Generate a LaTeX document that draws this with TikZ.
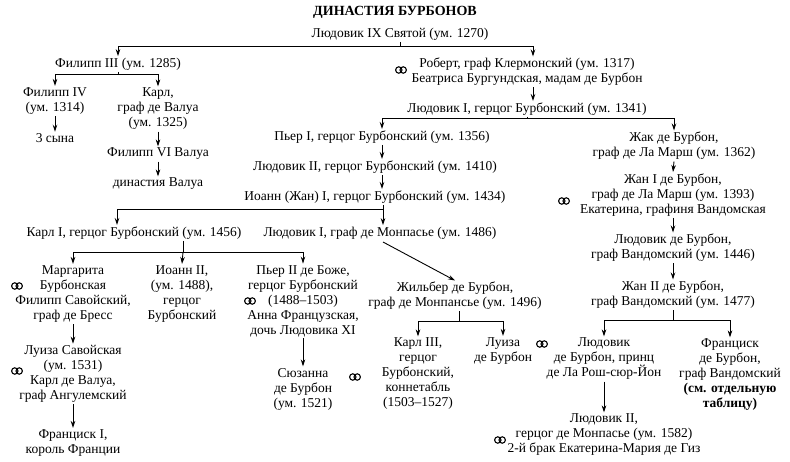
\documentclass[tikz,border=0pt]{standalone}
\usepackage{fontspec}
\setmainfont{Liberation Serif}
\usetikzlibrary{arrows.meta}
\begin{document}
\begin{tikzpicture}[x=1pt,y=-1pt,
  t/.style={font=\fontsize{13.5}{15}\selectfont,align=center,inner sep=1.5pt},
  arr/.style={-{Stealth[length=7pt,width=4.5pt]},line width=0.9pt},
  ln/.style={line width=0.9pt},
  ring/.pic={\draw[line width=1.1pt] (-2.2,0) circle (3.2) (2.2,0) circle (3.2);}]
\useasboundingbox (0,0) rectangle (790,461);
\node[t,font=\bfseries\fontsize{14}{15}\selectfont] (title) at (395,12) {ДИНАСТИЯ БУРБОНОВ};
\node[t] (L9) at (400,34) {Людовик IX Святой (ум. 1270)};
\node[t] (P3) at (118,64) {Филипп III (ум. 1285)};
\node[t] (P4) at (55,101) {Филипп IV\\(ум. 1314)};
\node[t] (s3) at (55,138) {3 сына};
\node[t] (K) at (158,109) {Карл,\\граф де Валуа\\(ум. 1325)};
\node[t] (P6) at (158,154) {Филипп VI Валуа};
\node[t] (dV) at (158,184) {династия Валуа};
\node[t] (R) at (527,72) {Роберт, граф Клермонский (ум. 1317)\\Беатриса Бургундская, мадам де Бурбон};
\pic at (401,70) {ring};
\node[t] (L1) at (527,109) {Людовик I, герцог Бурбонский (ум. 1341)};
\node[t] (Pi1) at (382,137) {Пьер I, герцог Бурбонский (ум. 1356)};
\node[t] (L2) at (375,167) {Людовик II, герцог Бурбонский (ум. 1410)};
\node[t] (J1) at (375,197) {Иоанн (Жан) I, герцог Бурбонский (ум. 1434)};
\node[t] (K1) at (134,233) {Карл I, герцог Бурбонский (ум. 1456)};
\node[t] (LM) at (380,233) {Людовик I, граф де Монпасье (ум. 1486)};
\node[t] (Jak) at (674,146) {Жак де Бурбон,\\граф де Ла Марш (ум. 1362)};
\node[t] (Jan1) at (673,195) {Жан I де Бурбон,\\граф де Ла Марш (ум. 1393)\\Екатерина, графиня Вандомская};
\pic at (564,201) {ring};
\node[t] (LB) at (673,248) {Людовик де Бурбон,\\граф Вандомский (ум. 1446)};
\node[t] (Jan2) at (673,295) {Жан II де Бурбон,\\граф Вандомский (ум. 1477)};
\node[t] (LR) at (604,359) {Людовик\\де Бурбон, принц\\де Ла Рош-сюр-Йон};
\pic at (542,344) {ring};
\node[t] (FB) at (730,375) {Франциск\\де Бурбон,\\граф Вандомский\\\textbf{(см. отдельную}\\\textbf{таблицу)}};
\node[t] (LII) at (604,435) {Людовик II,\\герцог де Монпасье (ум. 1582)\\2-й брак Екатерина-Мария де Гиз};
\pic at (500,440) {ring};
\node[t] (Mar) at (73,294) {Маргарита\\Бурбонская\\Филипп Савойский,\\граф де Бресс};
\pic at (17,286) {ring};
\node[t] (Lu) at (73,374) {Луиза Савойская\\(ум. 1531)\\Карл де Валуа,\\граф Ангулемский};
\pic at (17,371) {ring};
\node[t] (F1) at (73,443) {Франциск I,\\король Франции};
\node[t] (I2) at (182,294) {Иоанн II,\\(ум. 1488),\\герцог\\Бурбонский};
\node[t] (P2) at (303,301) {Пьер II де Боже,\\герцог Бурбонский\\(1488–1503)\\Анна Французская,\\дочь Людовика XI};
\pic at (250,301) {ring};
\node[t] (Su) at (303,389) {Сюзанна\\де Бурбон\\(ум. 1521)};
\pic at (355,377) {ring};
\node[t] (Zh) at (455,296) {Жильбер де Бурбон,\\граф де Монпансье (ум. 1496)};
\node[t] (K3) at (418,374) {Карл III,\\герцог\\Бурбонский,\\коннетабль\\(1503–1527)};
\node[t] (LuB) at (503,351) {Луиза\\де Бурбон};
% connectors
\coordinate (b1) at (400,46);
\draw[ln] (L9.south) -- (b1);
\draw[arr] (b1) -| (P3.north);
\draw[arr] (b1) -| ([xshift=6pt]R.north);
\coordinate (b2) at (118,74);
\draw[ln] (P3.south) -- (b2);
\draw[arr] (b2) -| (P4.north);
\draw[arr] (b2) -| (K.north);
\draw[arr] (P4.south) -- (s3.north);
\draw[arr] (K.south) -- (P6.north);
\draw[arr] (P6.south) -- (dV.north);
\draw[arr] ([xshift=6pt]R.south) -- ([xshift=6pt]L1.north);
\coordinate (b3) at (527,118);
\draw[arr] (b3) -| (Pi1.north);
\draw[arr] (b3) -| (Jak.north);
\draw[ln] (L1.south) -- (b3);
\draw[arr] (Pi1.south) -- (Pi1.south |- L2.north);
\draw[arr] (Pi1.south |- L2.south) -- (Pi1.south |- J1.north);
\coordinate (b4) at (383,209);
\draw[ln] (383,205) -- (b4);
\draw[arr] (b4) -| (K1.north -| 117,0);
\draw[arr] (b4) -- (LM.north -| 383,0);
\draw[arr] (Jak.south) -- (Jan1.north);
\draw[arr] (Jan1.south) -- (LB.north);
\draw[arr] (LB.south) -- (Jan2.north);
\coordinate (b5) at (673,320);
\draw[ln] (Jan2.south) -- (b5);
\draw[arr] (b5) -| (LR.north);
\draw[arr] (b5) -| (FB.north);
\draw[arr] (LR.south) -- (LII.north);
\coordinate (b6) at (183,252);
\draw[ln] (K1.south -| 183,0) -- (b6);
\draw[arr] (b6) -| (Mar.north);
\draw[arr] (b6) -- (I2.north);
\draw[arr] (b6) -| (P2.north);
\draw[arr] (Mar.south) -- (Lu.north);
\draw[arr] (Lu.south) -- (F1.north);
\draw[arr] (P2.south) -- (Su.north);
\draw[arr] (383,242) -- (Zh.north);
\coordinate (b7) at (459,321);
\draw[ln] (Zh.south -| 459,0) -- (b7);
\draw[arr] (b7) -| (K3.north);
\draw[arr] (b7) -| (LuB.north);
\end{tikzpicture}
\end{document}
